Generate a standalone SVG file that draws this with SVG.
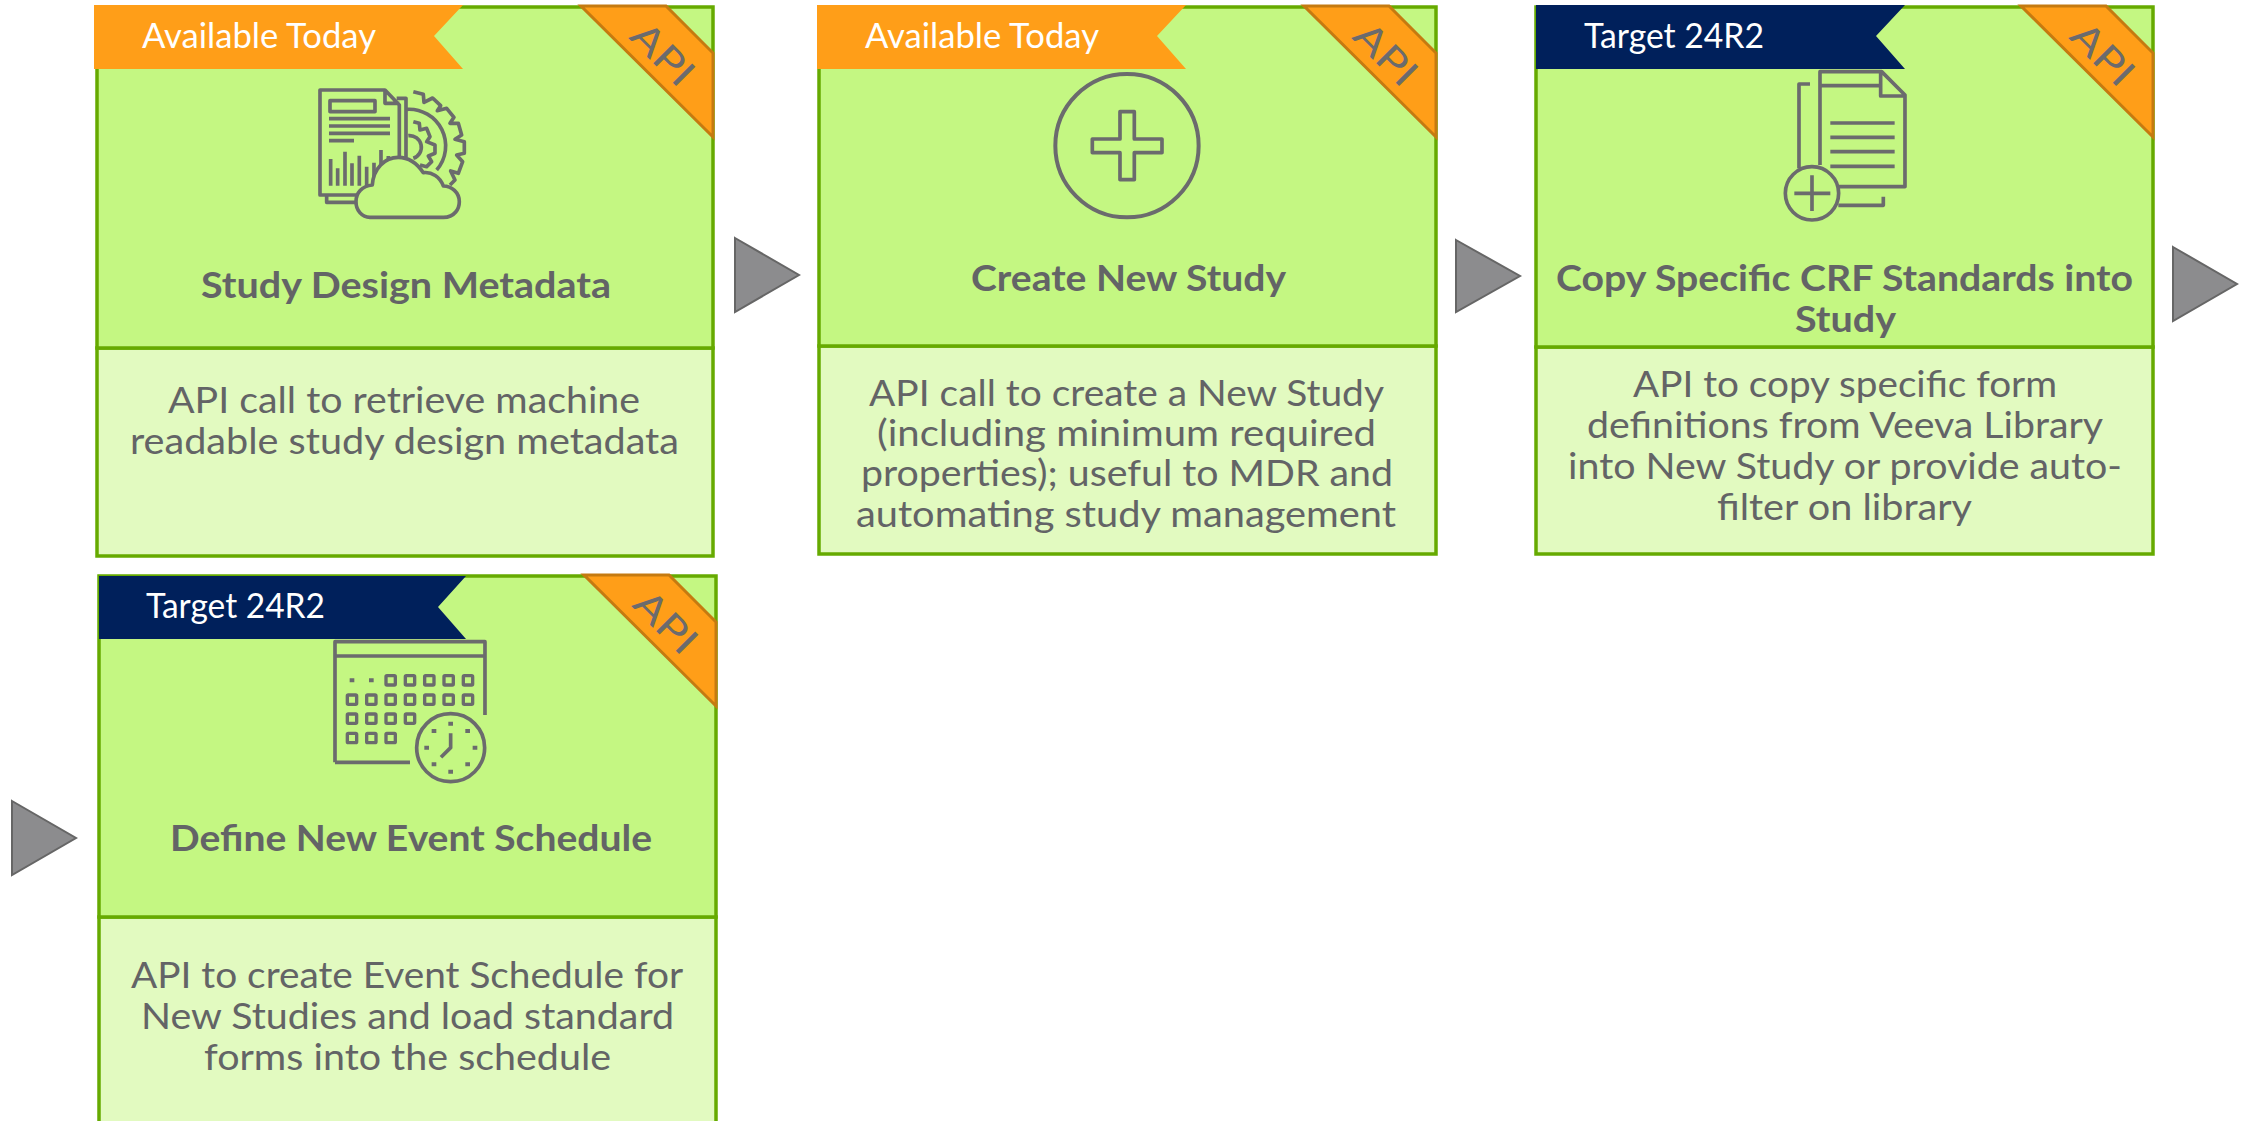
<svg xmlns="http://www.w3.org/2000/svg" width="2249" height="1121" viewBox="0 0 2249 1121">
<style>
.top{fill:#C4F782;stroke:#66AA00;stroke-width:3.5}
.bot{fill:#E2FAC0;stroke:#66AA00;stroke-width:3.5}
.or{fill:#FF9E18}
.nv{fill:#00205B}
.rib{fill:#FF9E18;stroke:#C57A10;stroke-width:3}
.arr{fill:#8C8C8E;stroke:#666;stroke-width:2}
text{font-family:Lato,"Liberation Sans",sans-serif;fill:#636466}
.h{font-size:37px;font-weight:700}
.b{font-size:37px}
.w{font-size:35px;fill:#fff}
.api{font-size:38px;fill:#6b6b6d}
.ic{fill:none;stroke:#6B6B6D;stroke-width:11;stroke-linejoin:round}
</style>
<g id="connectors">
<polygon class="arr" points="735,238 799,275 735,312"/>
<polygon class="arr" points="1456,240 1520,276 1456,312"/>
<polygon class="arr" points="2173,247 2237,284 2173,321"/>
<polygon class="arr" points="12,801 76,838 12,875"/>
</g>
<g id="node1">
<rect class="bot" x="97" y="348" width="616" height="208"/>
<rect class="top" x="97" y="7" width="616" height="341"/>
<polygon class="rib" points="581,6 666,6 713,53 713,137"/>
<polygon class="or" points="94,5 463,5 434,36 463,69 94,69"/>
<text class="w" x="142" y="48" textLength="234" lengthAdjust="spacingAndGlyphs">Available Today</text>
<text class="api" transform="translate(628,38) rotate(45)" textLength="72" lengthAdjust="spacingAndGlyphs">API</text>
<g class="ic" transform="translate(280,70) scale(.3333)">
<path d="M400,65 430,73 432,97 458,84 482,107 472,122 500,115 522,142 510,160 535,160 545,195 525,208 553,215 553,250 530,255 548,275 535,310 512,303 525,330 510,345"/>
<path d="M380,118A110,110 0 0 1 470,300"/>
<path d="M400,155 418,160 420,180 440,175 450,200 440,215 465,225 465,250 445,258 455,275 440,290 420,285"/>
<path d="M385,197A35,35 0 0 1 400,265"/>
<path d="M350,85H378V262M140,378V397H225"/>
<path d="M358,260V105L315,60H120V375H240M315,60V100H358"/>
<rect x="150" y="92" width="135" height="33"/>
<path d="M147,146H330M147,168H330M147,190H330M147,212H222M152,347V267M173,347V295M195,347V245M216,347V280M238,347V257M260,347V290M282,320V278M303,285V240M325,270V258"/>
<path style="fill:#C4F782" d="M270,442H490C525,442 538,415 538,395C538,368 515,348 490,348C480,320 455,305 430,308C410,278 385,262 355,262C315,262 280,295 277,345C245,348 228,370 228,395C228,420 245,442 270,442Z"/>
</g>
<text class="h" x="201" y="298" textLength="410" lengthAdjust="spacingAndGlyphs">Study Design Metadata</text>
<text class="b" x="168" y="413" textLength="472" lengthAdjust="spacingAndGlyphs">API call to retrieve machine</text>
<text class="b" x="130" y="454" textLength="549" lengthAdjust="spacingAndGlyphs">readable study design metadata</text>
</g>
<g id="node2">
<rect class="bot" x="819" y="346" width="617" height="208"/>
<rect class="top" x="819" y="7" width="617" height="339"/>
<polygon class="rib" points="1304,6 1389,6 1436,53 1436,137"/>
<polygon class="or" points="817,5 1186,5 1157,36 1186,69 817,69"/>
<text class="w" x="865" y="48" textLength="234" lengthAdjust="spacingAndGlyphs">Available Today</text>
<text class="api" transform="translate(1351,38) rotate(45)" textLength="72" lengthAdjust="spacingAndGlyphs">API</text>
<g class="ic" transform="translate(1000,60) scale(.3333)">
<circle cx="381" cy="257" r="215" stroke-width="12"/>
<path d="M360,155H403V237H486V278H403V359H360V278H277V237H360Z"/>
</g>
<text class="h" x="971" y="291" textLength="315" lengthAdjust="spacingAndGlyphs">Create New Study</text>
<text class="b" x="869" y="406" textLength="515" lengthAdjust="spacingAndGlyphs">API call to create a New Study</text>
<text class="b" x="877" y="446" textLength="499" lengthAdjust="spacingAndGlyphs">(including minimum required</text>
<text class="b" x="861" y="486" textLength="532" lengthAdjust="spacingAndGlyphs">properties); useful to MDR and</text>
<text class="b" x="856" y="527" textLength="540" lengthAdjust="spacingAndGlyphs">automating study management</text>
</g>
<g id="node3">
<rect class="bot" x="1536" y="347" width="617" height="207"/>
<rect class="top" x="1536" y="7" width="617" height="340"/>
<polygon class="rib" points="2021,6 2106,6 2153,53 2153,137"/>
<polygon class="nv" points="1536,5 1905,5 1876,36 1905,69 1536,69"/>
<text class="w" x="1584" y="48" textLength="180" lengthAdjust="spacingAndGlyphs">Target 24R2</text>
<text class="api" transform="translate(2068,38) rotate(45)" textLength="72" lengthAdjust="spacingAndGlyphs">API</text>
<g class="ic" transform="translate(1720,50) scale(.3333)">
<path d="M300,345V65H485L555,135V410H355M482,65V138H555M300,107H482M331,219H524M331,262H524M331,305H524M331,349H524M270,102H237V355M355,466H490V440"/>
<circle cx="276" cy="430" r="80"/>
<path d="M223,430H331M276,376V483"/>
</g>
<text class="h" x="1556" y="291" textLength="577" lengthAdjust="spacingAndGlyphs">Copy Specific CRF Standards into</text>
<text class="h" x="1795" y="332" textLength="101" lengthAdjust="spacingAndGlyphs">Study</text>
<text class="b" x="1633" y="397" textLength="424" lengthAdjust="spacingAndGlyphs">API to copy specific form</text>
<text class="b" x="1587" y="438" textLength="516" lengthAdjust="spacingAndGlyphs">definitions from Veeva Library</text>
<text class="b" x="1568" y="479" textLength="554" lengthAdjust="spacingAndGlyphs">into New Study or provide auto-</text>
<text class="b" x="1717" y="520" textLength="255" lengthAdjust="spacingAndGlyphs">filter on library</text>
</g>
<g id="node4">
<path class="bot" d="M99,917V1125H716V917Z"/>
<rect class="top" x="99" y="576" width="617" height="341"/>
<polygon class="rib" points="584,575 669,575 716,622 716,706"/>
<polygon class="nv" points="99,576 466,576 438,607 466,639 99,639"/>
<text class="w" x="146" y="618" textLength="179" lengthAdjust="spacingAndGlyphs">Target 24R2</text>
<text class="api" transform="translate(631,606) rotate(45)" textLength="72" lengthAdjust="spacingAndGlyphs">API</text>
<g class="ic" transform="translate(300,620) scale(.3333)">
<path d="M105,427V65H555V285M105,427H330M105,108H555"/>
<g id="cal" stroke-width="10">
<rect x="142" y="225" width="28" height="28" rx="3"/><rect x="200" y="225" width="28" height="28" rx="3"/><rect x="258" y="225" width="28" height="28" rx="3"/><rect x="316" y="225" width="28" height="28" rx="3"/><rect x="374" y="225" width="28" height="28" rx="3"/><rect x="432" y="225" width="28" height="28" rx="3"/><rect x="490" y="225" width="28" height="28" rx="3"/>
<rect x="258" y="167" width="28" height="28" rx="3"/><rect x="316" y="167" width="28" height="28" rx="3"/><rect x="374" y="167" width="28" height="28" rx="3"/><rect x="432" y="167" width="28" height="28" rx="3"/><rect x="490" y="167" width="28" height="28" rx="3"/>
<rect x="142" y="282" width="28" height="28" rx="3"/><rect x="200" y="282" width="28" height="28" rx="3"/><rect x="258" y="282" width="28" height="28" rx="3"/><rect x="316" y="282" width="28" height="28" rx="3"/>
<rect x="142" y="340" width="28" height="28" rx="3"/><rect x="200" y="340" width="28" height="28" rx="3"/><rect x="258" y="340" width="28" height="28" rx="3"/>
</g>
<circle cx="452" cy="383" r="102"/>
<path d="M452,340V383L423,412"/>
<path stroke-width="12" d="M149,181H163M207,181H221M445,311H459M496,333H510M518,383H532M496,433H510M445,455H459M395,433H409M373,383H387M395,333H409"/>
</g>
<text class="h" x="170" y="851" textLength="482" lengthAdjust="spacingAndGlyphs">Define New Event Schedule</text>
<text class="b" x="131" y="988" textLength="552" lengthAdjust="spacingAndGlyphs">API to create Event Schedule for</text>
<text class="b" x="141" y="1029" textLength="533" lengthAdjust="spacingAndGlyphs">New Studies and load standard</text>
<text class="b" x="204" y="1070" textLength="407" lengthAdjust="spacingAndGlyphs">forms into the schedule</text>
</g>
</svg>
